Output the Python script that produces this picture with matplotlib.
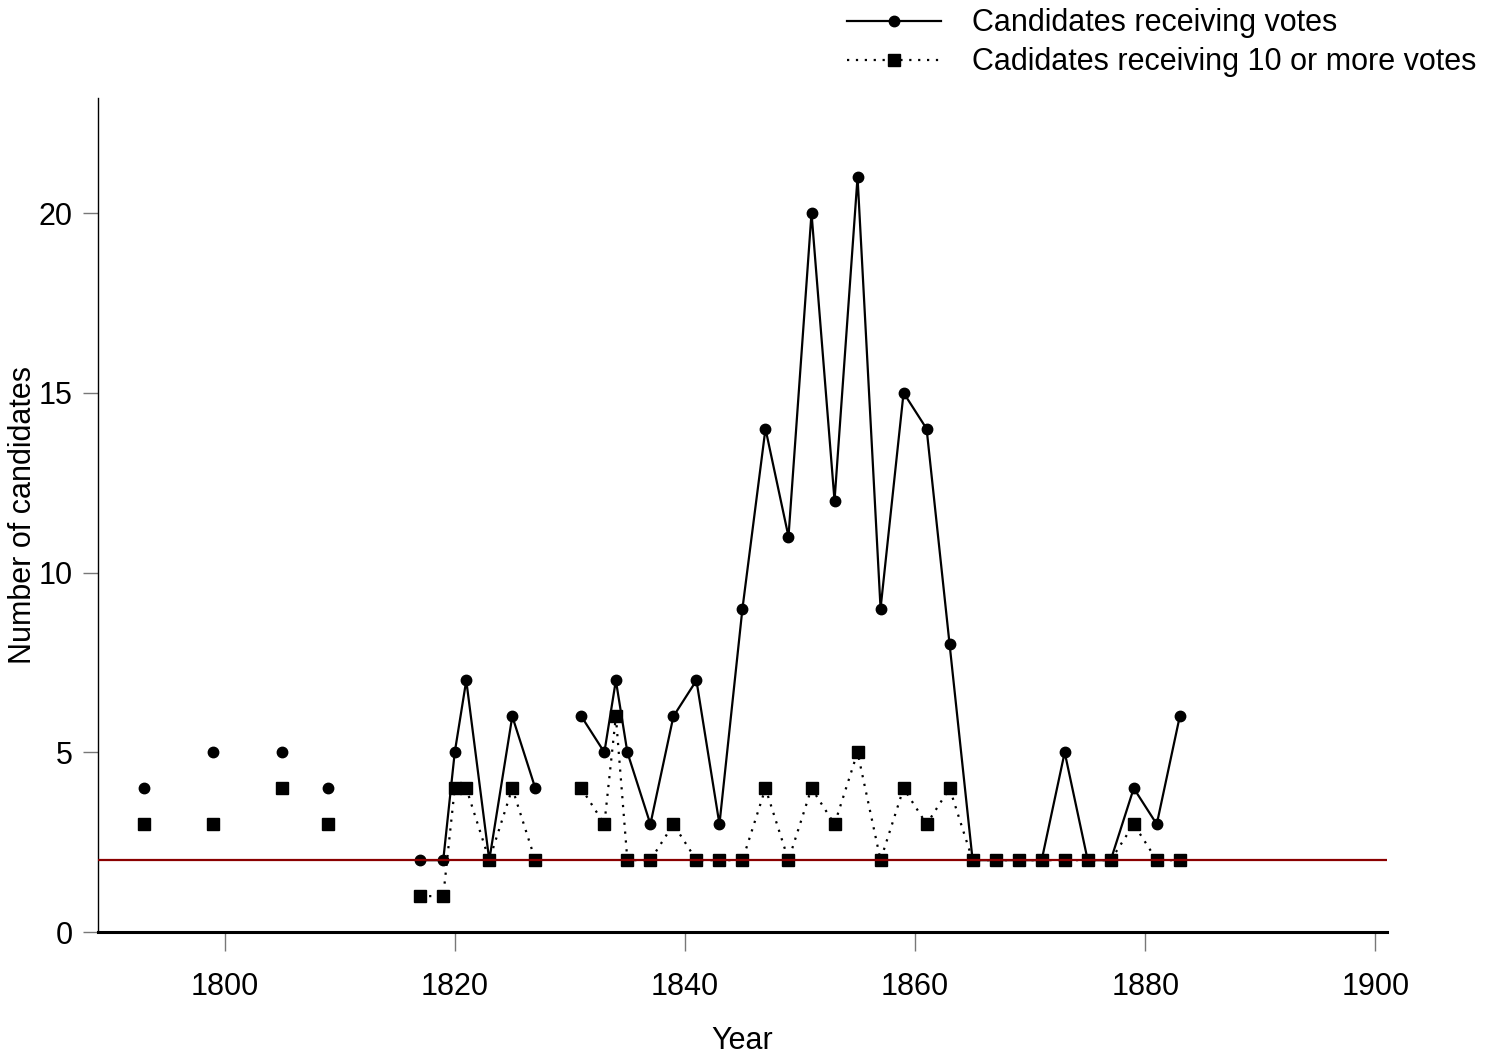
import numpy as np
import matplotlib
matplotlib.use("Agg")
import matplotlib.pyplot as plt

plt.rcParams['font.family'] = ['Liberation Sans', 'DejaVu Sans']

# election years; nan entries break the lines where no contest was held
years = [1793, 1796, 1799, 1802, 1805, 1807, 1809, 1813,
         1817, 1819, 1820, 1821, 1823, 1825, 1827, 1829,
         1831, 1833, 1834, 1835, 1837, 1839, 1841, 1843, 1845, 1847,
         1849, 1851, 1853, 1855, 1857, 1859, 1861, 1863, 1865, 1867,
         1869, 1871, 1873, 1875, 1877, 1879, 1881, 1883]
nan = np.nan
all_votes = [4, nan, 5, nan, 5, nan, 4, nan,
             2, 2, 5, 7, 2, 6, 4, nan,
             6, 5, 7, 5, 3, 6, 7, 3, 9, 14,
             11, 20, 12, 21, 9, 15, 14, 8, 2, 2,
             2, 2, 5, 2, 2, 4, 3, 6]
ten_plus = [3, nan, 3, nan, 4, nan, 3, nan,
            1, 1, 4, 4, 2, 4, 2, nan,
            4, 3, 6, 2, 2, 3, 2, 2, 2, 4,
            2, 4, 3, 5, 2, 4, 3, 4, 2, 2,
            2, 2, 2, 2, 2, 3, 2, 2]
reference_level = 2

fig = plt.figure(figsize=(14.87, 10.54), dpi=100)
ax = fig.add_axes([0.0659, 0.1157, 0.8668, 0.7913])

ax.plot(years, all_votes, color='black', lw=1.6, marker='o', markersize=7.5,
        label='Candidates receiving votes', zorder=3)
ax.plot(years, ten_plus, color='black', lw=1.6, linestyle=(0, (1, 3)),
        marker='s', markersize=8.5, label='Cadidates receiving 10 or more votes',
        zorder=3)
ax.axhline(reference_level, color='#8b0000', lw=1.6, zorder=4)

ax.set_xlim(1789, 1901)
ax.set_ylim(0, 23.2)
ax.set_xticks([1800, 1820, 1840, 1860, 1880, 1900])
ax.set_yticks([0, 5, 10, 15, 20])

for side in ('top', 'right'):
    ax.spines[side].set_visible(False)
ax.spines['bottom'].set_linewidth(2.2)
ax.spines['left'].set_linewidth(1.0)
ax.tick_params(axis='x', direction='out', length=14, width=1, color='#777777',
               pad=15, labelsize=22)
ax.tick_params(axis='y', direction='out', length=11, width=1, color='#777777',
               pad=7, labelsize=22)

ax.set_xlabel('Year', fontsize=22, labelpad=17)
ax.set_ylabel('Number of candidates', fontsize=22, labelpad=0.5)

fig.legend(loc='upper right', bbox_to_anchor=(0.997, 0.998), frameon=False,
           fontsize=22, handlelength=3.1, handletextpad=1.0, labelspacing=0.3,
           borderaxespad=0.0, borderpad=0.2)

fig.savefig('out.png', dpi=100)
